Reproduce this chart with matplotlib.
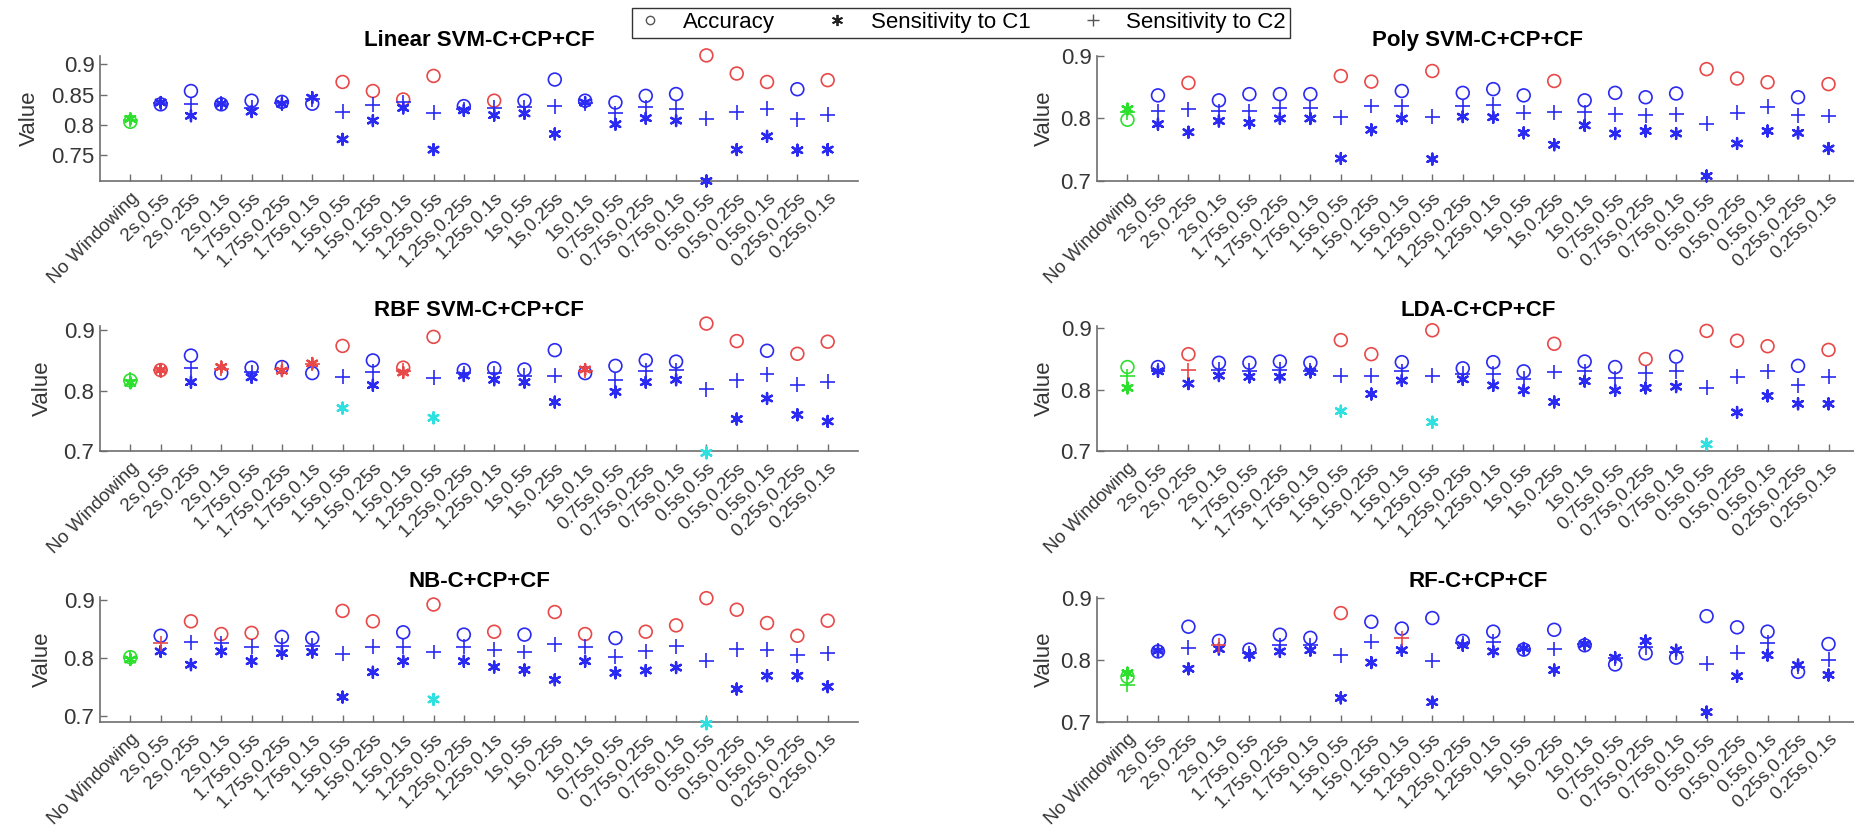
import matplotlib.pyplot as plt
import numpy as np
from matplotlib.lines import Line2D

plt.rcParams['font.family'] = ['Liberation Sans', 'DejaVu Sans']

windows = ['No Windowing',
           '2s,0.5s', '2s,0.25s', '2s,0.1s',
           '1.75s,0.5s', '1.75s,0.25s', '1.75s,0.1s',
           '1.5s,0.5s', '1.5s,0.25s', '1.5s,0.1s',
           '1.25s,0.5s', '1.25s,0.25s', '1.25s,0.1s',
           '1s,0.5s', '1s,0.25s', '1s,0.1s',
           '0.75s,0.5s', '0.75s,0.25s', '0.75s,0.1s',
           '0.5s,0.5s', '0.5s,0.25s', '0.5s,0.1s',
           '0.25s,0.25s', '0.25s,0.1s']

# per classifier: accuracy, sensitivity to C1, sensitivity to C2
# flags: B = no windowing baseline, H = marked high, L = marked low, - = other
linear_acc = [0.805, 0.834, 0.856, 0.834, 0.840, 0.838, 0.835, 0.871, 0.856, 0.842, 0.881, 0.831,
              0.840, 0.840, 0.875, 0.840, 0.837, 0.848, 0.851, 0.915, 0.885, 0.871, 0.859, 0.874]
linear_c1 = [0.810, 0.837, 0.815, 0.835, 0.822, 0.835, 0.845, 0.776, 0.807, 0.828, 0.759, 0.824,
             0.816, 0.819, 0.785, 0.837, 0.801, 0.811, 0.807, 0.707, 0.759, 0.781, 0.758, 0.759]
linear_c2 = [0.808, 0.836, 0.834, 0.835, 0.828, 0.836, 0.842, 0.822, 0.833, 0.837, 0.820, 0.826,
             0.828, 0.829, 0.831, 0.836, 0.819, 0.829, 0.827, 0.810, 0.821, 0.827, 0.809, 0.817]
linear_flags = ('B------HHHH-H------HHH-H', 'B-----------------------', 'B-----------------------')

poly_acc = [0.798, 0.837, 0.857, 0.829, 0.839, 0.839, 0.839, 0.868, 0.859, 0.844, 0.876, 0.841,
            0.847, 0.837, 0.860, 0.829, 0.841, 0.834, 0.840, 0.879, 0.864, 0.858, 0.834, 0.855]
poly_c1 = [0.815, 0.791, 0.778, 0.796, 0.793, 0.800, 0.800, 0.736, 0.782, 0.800, 0.735, 0.803,
           0.802, 0.777, 0.758, 0.789, 0.776, 0.780, 0.776, 0.708, 0.760, 0.780, 0.777, 0.752]
poly_c2 = [0.810, 0.812, 0.815, 0.812, 0.812, 0.817, 0.817, 0.802, 0.820, 0.820, 0.803, 0.820,
           0.822, 0.809, 0.810, 0.810, 0.807, 0.805, 0.807, 0.792, 0.809, 0.819, 0.805, 0.804]
poly_flags = ('B-H----HH-H---H----HHH-H', 'B-----------------------', 'B-----------------------')

rbf_acc = [0.817, 0.834, 0.858, 0.829, 0.838, 0.839, 0.829, 0.874, 0.850, 0.838, 0.889, 0.834,
           0.837, 0.835, 0.867, 0.829, 0.841, 0.850, 0.848, 0.911, 0.882, 0.866, 0.861, 0.881]
rbf_c1 = [0.813, 0.834, 0.814, 0.839, 0.822, 0.833, 0.845, 0.771, 0.809, 0.830, 0.755, 0.825,
          0.818, 0.814, 0.781, 0.835, 0.798, 0.814, 0.818, 0.697, 0.753, 0.787, 0.760, 0.749]
rbf_c2 = [0.818, 0.834, 0.837, 0.836, 0.830, 0.836, 0.844, 0.823, 0.831, 0.833, 0.821, 0.829,
          0.829, 0.825, 0.825, 0.833, 0.818, 0.833, 0.834, 0.802, 0.817, 0.827, 0.810, 0.815]
rbf_flags = ('BH-----H-HH--------HH-HH', 'BH-H-HHL-HL----H---L----', 'BH-H-HH--H-----H--------')

lda_acc = [0.837, 0.837, 0.858, 0.844, 0.844, 0.846, 0.844, 0.881, 0.858, 0.845, 0.897, 0.835,
           0.845, 0.830, 0.875, 0.846, 0.837, 0.850, 0.854, 0.896, 0.880, 0.871, 0.839, 0.865]
lda_c1 = [0.803, 0.830, 0.810, 0.823, 0.821, 0.821, 0.829, 0.765, 0.793, 0.815, 0.747, 0.817,
          0.807, 0.799, 0.780, 0.814, 0.799, 0.803, 0.805, 0.711, 0.763, 0.790, 0.777, 0.777]
lda_c2 = [0.822, 0.831, 0.832, 0.833, 0.831, 0.833, 0.831, 0.823, 0.823, 0.830, 0.823, 0.826,
          0.826, 0.818, 0.829, 0.830, 0.819, 0.827, 0.830, 0.803, 0.821, 0.830, 0.807, 0.821]
lda_flags = ('B-H----HH-H---H--H-HHH-H', 'B------L--L--------L----', 'B-H---------------------')

nb_acc = [0.802, 0.839, 0.864, 0.842, 0.844, 0.837, 0.835, 0.882, 0.864, 0.845, 0.893, 0.841,
          0.846, 0.841, 0.880, 0.842, 0.835, 0.846, 0.857, 0.904, 0.884, 0.861, 0.839, 0.865]
nb_c1 = [0.798, 0.812, 0.789, 0.812, 0.795, 0.809, 0.811, 0.733, 0.776, 0.795, 0.729, 0.795,
         0.785, 0.780, 0.763, 0.795, 0.775, 0.779, 0.784, 0.687, 0.747, 0.770, 0.770, 0.751]
nb_c2 = [0.800, 0.826, 0.828, 0.826, 0.820, 0.822, 0.822, 0.808, 0.820, 0.820, 0.811, 0.820,
         0.815, 0.811, 0.824, 0.820, 0.803, 0.812, 0.821, 0.796, 0.816, 0.815, 0.805, 0.809]
nb_flags = ('B-HHH--HH-H-H-HH-HHHHHHH', 'B---------L--------L----', 'BH----------------------')

rf_acc = [0.773, 0.814, 0.854, 0.831, 0.817, 0.841, 0.836, 0.876, 0.862, 0.851, 0.868, 0.831,
          0.846, 0.817, 0.849, 0.824, 0.793, 0.811, 0.804, 0.871, 0.853, 0.846, 0.781, 0.826]
rf_c1 = [0.779, 0.815, 0.786, 0.818, 0.808, 0.814, 0.816, 0.739, 0.796, 0.816, 0.732, 0.824,
         0.814, 0.819, 0.784, 0.826, 0.804, 0.831, 0.816, 0.716, 0.774, 0.808, 0.792, 0.776]
rf_c2 = [0.760, 0.815, 0.820, 0.824, 0.811, 0.824, 0.824, 0.808, 0.830, 0.835, 0.799, 0.827,
         0.830, 0.818, 0.818, 0.826, 0.803, 0.821, 0.813, 0.794, 0.812, 0.828, 0.789, 0.801]
rf_flags = ('B------H----------------', 'B-----------------------', 'B--H-----H--------------')

panels = [
    ('Linear SVM-C+CP+CF', linear_acc, linear_c1, linear_c2, linear_flags, (0.707, 0.914), [0.75, 0.8, 0.85, 0.9]),
    ('Poly SVM-C+CP+CF', poly_acc, poly_c1, poly_c2, poly_flags, (0.7, 0.9), [0.7, 0.8, 0.9]),
    ('RBF SVM-C+CP+CF', rbf_acc, rbf_c1, rbf_c2, rbf_flags, (0.7, 0.907), [0.7, 0.8, 0.9]),
    ('LDA-C+CP+CF', lda_acc, lda_c1, lda_c2, lda_flags, (0.7, 0.904), [0.7, 0.8, 0.9]),
    ('NB-C+CP+CF', nb_acc, nb_c1, nb_c2, nb_flags, (0.69, 0.906), [0.7, 0.8, 0.9]),
    ('RF-C+CP+CF', rf_acc, rf_c1, rf_c2, rf_flags, (0.7, 0.902), [0.7, 0.8, 0.9]),
]

flag_colors = {'B': '#2ee02e', 'H': '#e84848', 'L': '#2ee0e0', '-': '#2a2af2'}
asterisk = (6, 2, 0)
styles = [dict(marker='o', s=85, facecolors='none', linewidths=1.2),
          dict(marker=asterisk, s=62, linewidths=1.7),
          dict(marker='+', s=115, linewidths=1.2)]

W, H = 1854, 832
fig = plt.figure(figsize=(W / 100, H / 100), dpi=100)

col_x = [(100, 758), (1097, 762)]
row_y = [(56, 181), (326, 451), (597, 722)]

x = np.arange(1, len(windows) + 1)
axis_grey = '#6e6e6e'

for i, (title, acc, c1, c2, flags, ylim, yticks) in enumerate(panels):
    r, c = divmod(i, 2)
    x0, w = col_x[c]
    top, bottom = row_y[r]
    ax = fig.add_axes([x0 / W, 1 - bottom / H, w / W, (bottom - top) / H])

    for vals, flg, st in zip((acc, c1, c2), flags, styles):
        cols = [flag_colors[f] for f in flg]
        if st['marker'] == 'o':
            ax.scatter(x, vals, edgecolors=cols, clip_on=False, zorder=3, **st)
        else:
            ax.scatter(x, vals, c=cols, clip_on=False, zorder=3, **st)

    ax.set_xlim(0, 25)
    ax.set_ylim(*ylim)
    ax.set_yticks(yticks)
    ax.set_yticklabels([f'{t:g}' for t in yticks])
    ax.set_xticks(x)
    ax.set_xticklabels(windows, rotation=45, ha='right', va='top', rotation_mode='anchor')
    for s in ('top', 'right'):
        ax.spines[s].set_visible(False)
    for s in ('left', 'bottom'):
        ax.spines[s].set_color(axis_grey)
        ax.spines[s].set_linewidth(1.2)
    ax.tick_params(axis='both', direction='in', length=5, width=1.0, color=axis_grey,
                   labelcolor='#363636')
    ax.tick_params(axis='y', labelsize=16, pad=4)
    ax.tick_params(axis='x', labelsize=13.5, pad=6)
    ax.set_ylabel('Value', fontsize=16, color='#363636', labelpad=8 if c == 0 else 4)
    ax.set_title(title, fontsize=16, fontweight='bold', pad=7)

handles = [Line2D([], [], ls='none', marker='o', mfc='none', mec='#555555', ms=6, mew=1.0),
           Line2D([], [], ls='none', marker=asterisk, color='#222222', ms=8, mew=1.3),
           Line2D([], [], ls='none', marker='+', color='#555555', ms=9, mew=1.0)]
leg = fig.legend(handles, ['Accuracy', 'Sensitivity to C1', 'Sensitivity to C2'],
                 loc='upper center', bbox_to_anchor=(961 / W, 1 - 1 / H), ncol=3,
                 fontsize=16, frameon=True, fancybox=False, edgecolor='black',
                 borderpad=0.2, borderaxespad=0.3, columnspacing=2.2, handletextpad=0.9,
                 handlelength=1.2)
leg.get_frame().set_linewidth(1.0)

fig.savefig('out.png', dpi=100)
